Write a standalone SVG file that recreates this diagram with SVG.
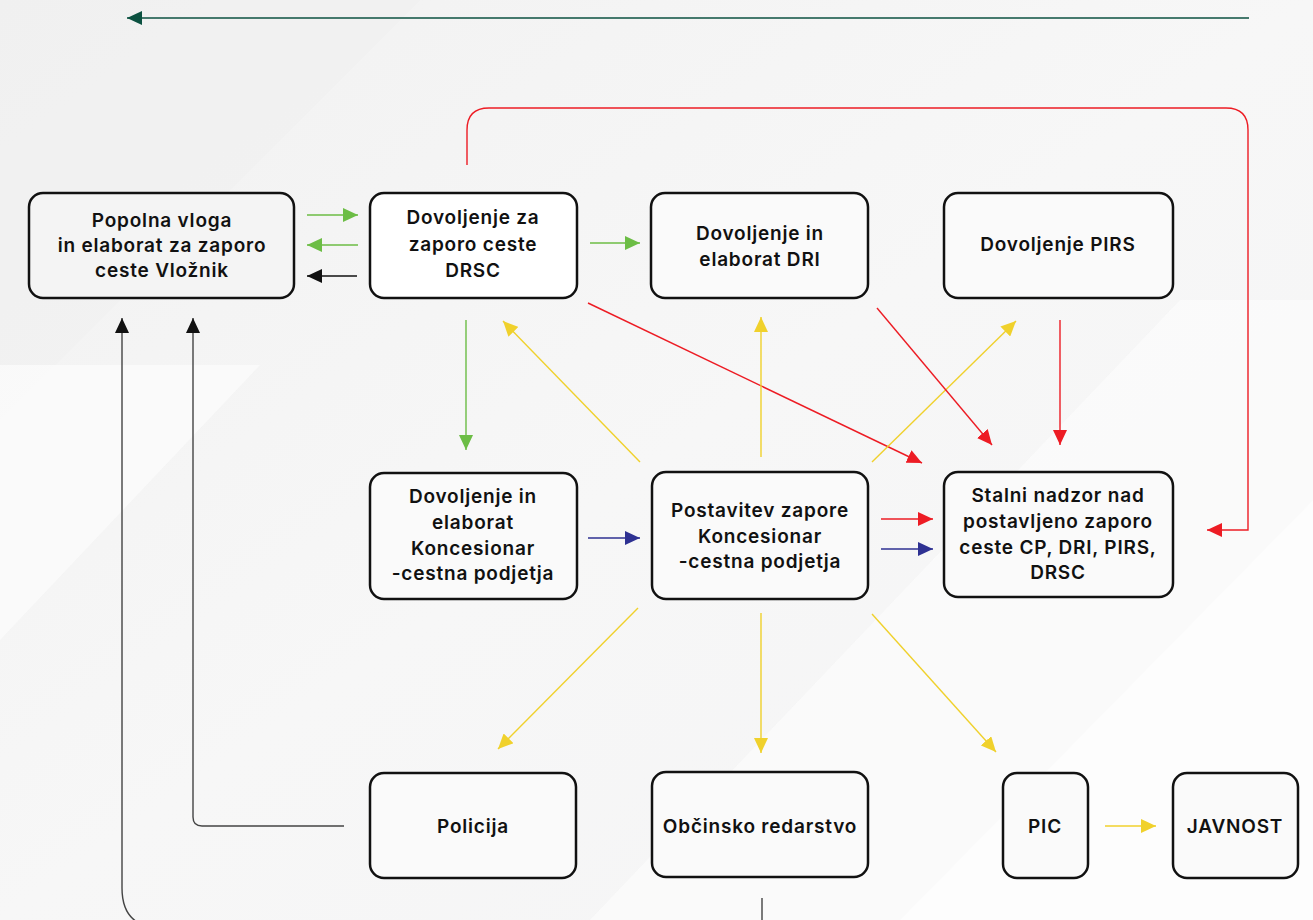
<svg xmlns="http://www.w3.org/2000/svg" width="1313" height="920" viewBox="0 0 1313 920">
<defs>
<linearGradient id="bg" x1="0" y1="0" x2="1" y2="1">
<stop offset="0" stop-color="#f1f1f1"/>
<stop offset="0.5" stop-color="#f7f7f7"/>
<stop offset="1" stop-color="#f4f4f5"/>
</linearGradient>
<marker id="aGreen" markerUnits="userSpaceOnUse" markerWidth="16" markerHeight="14" refX="15" refY="7" orient="auto"><path d="M0,0 L15,7 L0,14 Z" fill="#6cbd45"/></marker>
<marker id="aBlack" markerUnits="userSpaceOnUse" markerWidth="16" markerHeight="14" refX="15" refY="7" orient="auto"><path d="M0,0 L15,7 L0,14 Z" fill="#111"/></marker>
<marker id="aRed" markerUnits="userSpaceOnUse" markerWidth="16" markerHeight="14" refX="15" refY="7" orient="auto"><path d="M0,0 L15,7 L0,14 Z" fill="#ed1c24"/></marker>
<marker id="aYellow" markerUnits="userSpaceOnUse" markerWidth="16" markerHeight="14" refX="15" refY="7" orient="auto"><path d="M0,0 L15,7 L0,14 Z" fill="#f0d12c"/></marker>
<marker id="aBlue" markerUnits="userSpaceOnUse" markerWidth="16" markerHeight="14" refX="15" refY="7" orient="auto"><path d="M0,0 L15,7 L0,14 Z" fill="#2e3192"/></marker>
<marker id="aDkGreen" markerUnits="userSpaceOnUse" markerWidth="16" markerHeight="14" refX="15" refY="7" orient="auto"><path d="M0,0 L15,7 L0,14 Z" fill="#0b5140"/></marker>
<marker id="aGray" markerUnits="userSpaceOnUse" markerWidth="16" markerHeight="14" refX="15" refY="7" orient="auto"><path d="M0,0 L15,7 L0,14 Z" fill="#111"/></marker>
</defs>
<style>
.box{fill:#fafafa;stroke:#111;stroke-width:2.5}
.t{font-family:Inter,"Liberation Sans",sans-serif;font-size:19px;font-weight:600;letter-spacing:0.8px;fill:#111;text-anchor:middle}
.c{fill:none;stroke-width:1.4}
.g{stroke:#6cbd45}
.k{stroke:#111}
.r{stroke:#ed1c24}
.y{stroke:#f0d12c}
.b{stroke:#2e3192}
.gr{stroke:#444}
</style>
<rect width="1313" height="920" fill="url(#bg)"/>
<polygon points="0,0 420,0 0,420" fill="#f0f0f0" opacity="0.6"/>
<polygon points="0,365 260,365 0,640" fill="#fbfbfb" opacity="0.8"/>
<polygon points="590,920 1180,300 1313,300 1313,920" fill="#fcfcfc" opacity="0.7"/>
<polygon points="900,920 1313,500 1313,920" fill="#ffffff" opacity="0.5"/>

<g id="connectors">
<line class="c" x1="1249" y1="18" x2="127" y2="18" stroke="#0b5140" stroke-width="1.6" marker-end="url(#aDkGreen)"/>
<line class="c g" x1="307" y1="215" x2="358" y2="215" marker-end="url(#aGreen)"/>
<line class="c g" x1="358" y1="245" x2="307" y2="245" marker-end="url(#aGreen)"/>
<line class="c k" x1="357" y1="276" x2="307" y2="276" marker-end="url(#aBlack)"/>
<line class="c g" x1="590" y1="243" x2="640" y2="243" marker-end="url(#aGreen)"/>
<line class="c g" x1="466" y1="320" x2="466" y2="450" marker-end="url(#aGreen)"/>
<line class="c r" x1="588" y1="303" x2="922" y2="463" marker-end="url(#aRed)"/>
<line class="c y" x1="640" y1="462" x2="503" y2="321" marker-end="url(#aYellow)"/>
<line class="c y" x1="761" y1="457" x2="761" y2="317" marker-end="url(#aYellow)"/>
<line class="c y" x1="872" y1="462" x2="1016" y2="321" marker-end="url(#aYellow)"/>
<line class="c r" x1="877" y1="308" x2="992" y2="445" marker-end="url(#aRed)"/>
<line class="c r" x1="1060" y1="320" x2="1060" y2="445" marker-end="url(#aRed)"/>
<line class="c r" x1="881" y1="519" x2="933" y2="519" marker-end="url(#aRed)"/>
<line class="c b" x1="881" y1="549" x2="933" y2="549" marker-end="url(#aBlue)"/>
<line class="c b" x1="588" y1="538" x2="640" y2="538" marker-end="url(#aBlue)"/>
<path class="c r" d="M467,165 V130 Q467,108 489,108 H1226 Q1248,108 1248,130 V530 H1207" marker-end="url(#aRed)"/>
<line class="c y" x1="638" y1="608" x2="498" y2="749" marker-end="url(#aYellow)"/>
<line class="c y" x1="761" y1="613" x2="761" y2="753" marker-end="url(#aYellow)"/>
<line class="c y" x1="872" y1="614" x2="996" y2="752" marker-end="url(#aYellow)"/>
<line class="c y" x1="1105" y1="826" x2="1156" y2="826" marker-end="url(#aYellow)"/>
<path class="c gr" d="M344,826 H202 Q193,826 193,817 V318" marker-end="url(#aGray)"/>
<path class="c gr" d="M762,898 V928 H162 Q122,928 122,888 V318" marker-end="url(#aGray)"/>
</g>

<g id="n1"><rect class="box" x="29" y="193" width="265" height="105" rx="14" style="fill:#f4f4f4"/>
<text class="t" x="162" y="227">Popolna vloga</text><text class="t" x="162" y="252">in elaborat za zaporo</text><text class="t" x="162" y="277">ceste Vložnik</text></g>
<g id="n2"><rect class="box" x="370" y="193" width="207" height="105" rx="14" style="fill:#ffffff"/>
<text class="t" x="473" y="224">Dovoljenje za</text><text class="t" x="473" y="251">zaporo ceste</text><text class="t" x="473" y="277">DRSC</text></g>
<g id="n3"><rect class="box" x="651" y="193" width="217" height="105" rx="14"/>
<text class="t" x="760" y="240">Dovoljenje in</text><text class="t" x="760" y="266">elaborat DRI</text></g>
<g id="n4"><rect class="box" x="944" y="193" width="229" height="105" rx="14"/>
<text class="t" x="1058" y="251">Dovoljenje PIRS</text></g>
<g id="n5"><rect class="box" x="370" y="473" width="207" height="126" rx="14"/>
<text class="t" x="473" y="503">Dovoljenje in</text><text class="t" x="473" y="529">elaborat</text><text class="t" x="473" y="555">Koncesionar</text><text class="t" x="473" y="580">-cestna podjetja</text></g>
<g id="n6"><rect class="box" x="652" y="472" width="216" height="127" rx="14"/>
<text class="t" x="760" y="517">Postavitev zapore</text><text class="t" x="760" y="543">Koncesionar</text><text class="t" x="760" y="568">-cestna podjetja</text></g>
<g id="n7"><rect class="box" x="944" y="472" width="229" height="125" rx="14"/>
<text class="t" x="1058" y="502">Stalni nadzor nad</text><text class="t" x="1058" y="528">postavljeno zaporo</text><text class="t" x="1058" y="554">ceste CP, DRI, PIRS,</text><text class="t" x="1058" y="579">DRSC</text></g>
<g id="n8"><rect class="box" x="370" y="773" width="206" height="105" rx="14"/>
<text class="t" x="473" y="833">Policija</text></g>
<g id="n9"><rect class="box" x="652" y="772" width="216" height="105" rx="14"/>
<text class="t" x="760" y="833">Občinsko redarstvo</text></g>
<g id="n10"><rect class="box" x="1003" y="773" width="85" height="105" rx="14"/>
<text class="t" x="1045" y="833">PIC</text></g>
<g id="n11"><rect class="box" x="1173" y="773" width="125" height="105" rx="14"/>
<text class="t" x="1235" y="833">JAVNOST</text></g>
</svg>
